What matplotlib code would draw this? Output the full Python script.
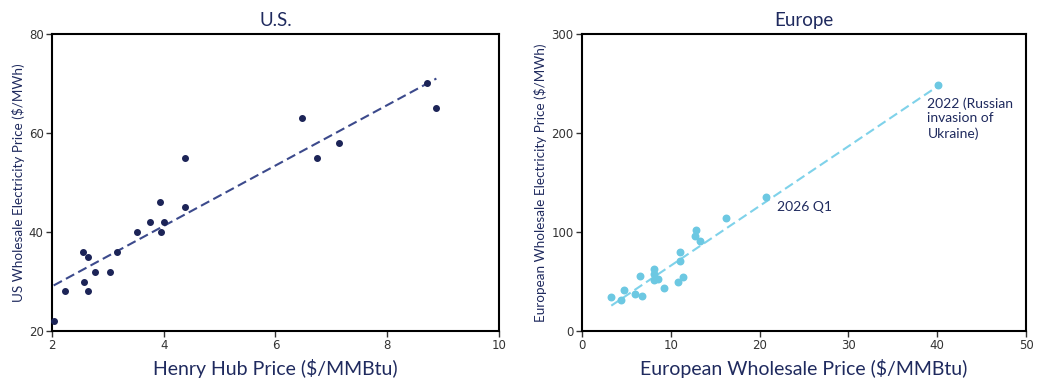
import numpy as np
import matplotlib
matplotlib.use("Agg")
import matplotlib.pyplot as plt

plt.rcParams['font.family'] = ['Lato', 'DejaVu Sans']

# U.S. data: Henry Hub gas price vs wholesale electricity price
us_gas = [2.04, 2.23, 2.55, 2.64, 2.58, 2.64, 2.77, 3.03, 3.16, 3.53, 3.75,
          3.93, 3.96, 4.01, 4.38, 4.38, 6.47, 6.75, 7.13, 8.71, 8.87]
us_power = [22, 28, 36, 35, 30, 28, 32, 32, 36, 40, 42,
            46, 40, 42, 55, 45, 63, 55, 58, 70, 65]

# Europe data
eu_gas = [3.3, 4.35, 4.69, 6.0, 6.48, 6.78, 8.13, 8.10, 8.06, 8.58, 9.18,
          10.83, 11.02, 11.09, 11.39, 12.67, 12.82, 13.27, 16.27, 20.76, 40.14]
eu_power = [34, 31, 41, 37, 56, 35, 63, 58, 52, 53, 43,
            50, 71, 80, 55, 96, 102, 91, 114, 135, 248]

# trend lines (x start/end, y start/end)
us_trend_x = [2.03, 8.88]
us_trend_y = [29.2, 71.0]
eu_trend_x = [3.3, 40.1]
eu_trend_y = [25.6, 247.5]

navy = '#1f2a5e'
us_color = '#1c2457'
us_line = '#3c4a8c'
eu_color = '#6cc8e2'
eu_line = '#7fd2ea'

fig = plt.figure(figsize=(10.46, 3.82), dpi=100)
ax1 = fig.add_axes([0.0497, 0.1335, 0.4273, 0.7775])
ax2 = fig.add_axes([0.5564, 0.1335, 0.4245, 0.7775])

ax1.plot(us_trend_x, us_trend_y, color=us_line, lw=1.5, dashes=(4.5, 2.2))
ax1.scatter(us_gas, us_power, s=16, color=us_color, zorder=3, clip_on=False)
ax1.set_xlim(2, 10)
ax1.set_ylim(20, 80)
ax1.set_xticks([2, 4, 6, 8, 10])
ax1.set_yticks([20, 40, 60, 80])
ax1.set_title('U.S.', fontsize=13.5, color=navy, pad=6)
ax1.set_xlabel('Henry Hub Price ($/MMBtu)', fontsize=14, color=navy, labelpad=5)
ax1.set_ylabel('US Wholesale Electricity Price ($/MWh)', fontsize=9.7, color=navy, labelpad=3)

ax2.plot(eu_trend_x, eu_trend_y, color=eu_line, lw=1.5, dashes=(4.5, 2.2))
ax2.scatter(eu_gas, eu_power, s=22, color=eu_color, zorder=3, clip_on=False)
ax2.set_xlim(0, 50)
ax2.set_ylim(0, 300)
ax2.set_xticks([0, 10, 20, 30, 40, 50])
ax2.set_yticks([0, 100, 200, 300])
ax2.set_title('Europe', fontsize=13.5, color=navy, pad=6)
ax2.set_xlabel('European Wholesale Price ($/MMBtu)', fontsize=14, color=navy, labelpad=5)
ax2.set_ylabel('European Wholesale Electricity Price ($/MWh)', fontsize=9.7, color=navy, labelpad=3)
ax2.text(38.9, 236, '2022 (Russian\ninvasion of\nUkraine)', fontsize=10, color=navy,
         va='top', ha='left', linespacing=1.25)
ax2.text(22.0, 125, '2026 Q1', fontsize=10, color=navy, va='center', ha='left')

for ax in (ax1, ax2):
    for sp in ax.spines.values():
        sp.set_linewidth(1.5)
        sp.set_color('black')
    ax.tick_params(axis='both', length=4, width=1, colors='#333333', pad=2)
    for lab in ax.get_xticklabels() + ax.get_yticklabels():
        lab.set_family('DejaVu Sans')
        lab.set_fontsize(8.5)

fig.savefig('out.png', dpi=100)
